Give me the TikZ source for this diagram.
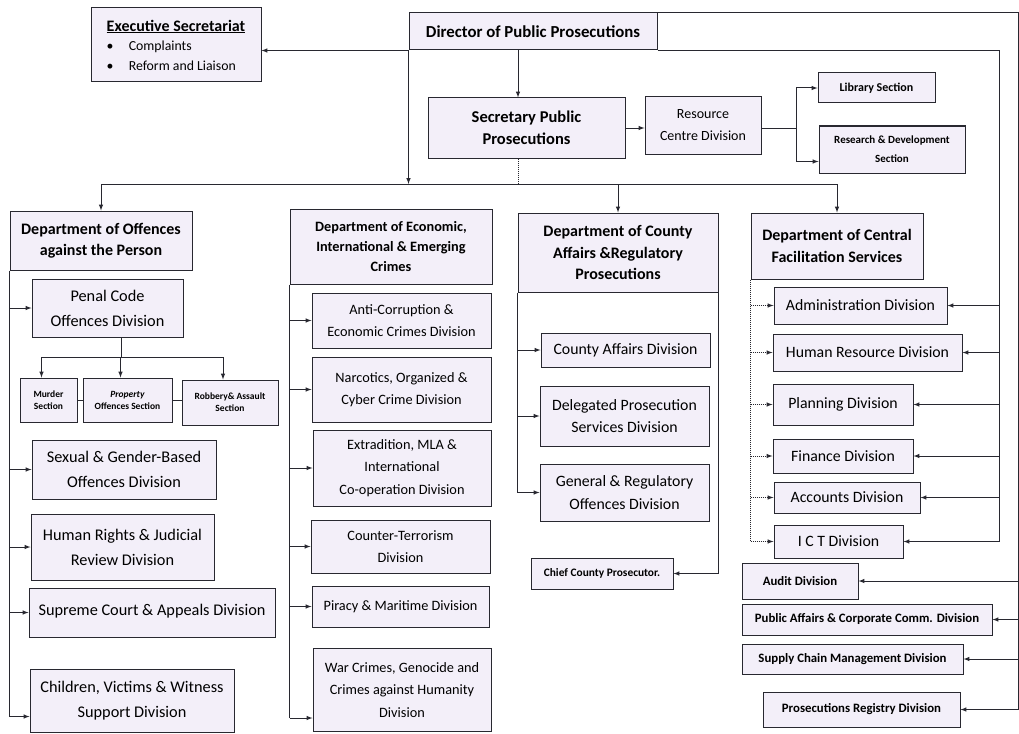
\documentclass[tikz,border=0pt]{standalone}
\usepackage{fontspec}
\setmainfont{Carlito}
\usepackage{tikz}
\usetikzlibrary{positioning,arrows,calc}
\definecolor{boxfill}{RGB}{243,239,249}
\definecolor{linecol}{RGB}{40,40,48}
\newcommand{\deptfont}{\fontsize{16}{21.5}\selectfont\bfseries}
\newcommand{\divfont}{\fontsize{15.8}{22.5}\selectfont}
\tikzset{
  unit/.style={
      draw=linecol,
      fill=boxfill,
      line width=1pt,
      align=center,
      inner sep=1pt,
  },
  dept/.style={
      unit,
      font=\deptfont,
  },
  division/.style={
      unit,
      font=\divfont,
  },
  widediv/.style={
      unit,
      font=\fontsize{16.3}{25}\selectfont,
  },
  econdiv/.style={
      unit,
      font=\fontsize{14.3}{22.5}\selectfont,
  },
  section/.style={
      unit,
      font=\fontsize{9.5}{12}\selectfont\bfseries,
  },
  office/.style={
      unit,
      font=\fontsize{12.8}{15}\selectfont\bfseries,
  },
  boxsize/.style 2 args={
      minimum width=#1pt,
      minimum height=#2pt,
  },
  conn/.style={
      draw=linecol,
      line width=1pt,
  },
  flow/.style={
      conn,
      -latex,
  },
  dotflow/.style={
      conn,
      densely dotted,
      -latex,
  },
}

\begin{document}
\begin{tikzpicture}[x=1pt,y=-1pt]
  \useasboundingbox (0,0) rectangle (1019,733);

  % top of the office
  \node[dept, boxsize={248}{37}, font=\fontsize{16.8}{18}\selectfont\bfseries] (dpp) at (533,31.5) {Director of Public Prosecutions};
  \node[unit, boxsize={170}{74}, align=left, font=\fontsize{13.8}{19.5}\selectfont] (exec) at (176,45)
      {{\fontsize{16}{19.5}\selectfont\bfseries\underline{Executive Secretariat}}\\
       \textbullet\hspace{1.1em}Complaints\\
       \textbullet\hspace{1.1em}Reform and Liaison};
  \node[dept, boxsize={197}{60}, font=\fontsize{16.5}{22}\selectfont\bfseries] (sec) at (526.5,128) {Secretary Public\\Prosecutions};
  \node[division, boxsize={116}{57}, font=\fontsize{14}{22}\selectfont] (rcd) at (703,125.5) {Resource\\Centre Division};
  \node[section, boxsize={117}{30}, font=\fontsize{12}{19}\selectfont\bfseries] (lib) at (876.5,88) {Library Section};
  \node[section, boxsize={146}{47}, font=\fontsize{11}{19}\selectfont\bfseries] (rnd) at (892,149.5) {Research \& Development\\Section};

  % departments
  \node[dept, boxsize={182}{59}] (dop) at (101,240.5) {Department of Offences\\against the Person};
  \node[dept, boxsize={202}{75}, font=\fontsize{14.3}{20}\selectfont\bfseries] (deic) at (391,246.5) {Department of Economic,\\International \& Emerging\\Crimes};
  \node[dept, boxsize={200}{79}] (dca) at (618,252.5) {Department of County\\Affairs \&Regulatory\\Prosecutions};
  \node[dept, boxsize={172}{66}] (cfs) at (837,246) {Department of Central\\Facilitation Services};

  % offences against the person
  \node[widediv, boxsize={151}{58}] (penal) at (107.5,308) {Penal Code\\Offences Division};
  \node[section, boxsize={57}{44}] (murder) at (48.5,400) {Murder\\Section};
  \node[section, boxsize={89}{44}] (prop) at (127.5,400) {\textit{Property}\\Offences Section};
  \node[section, boxsize={96}{45}] (robb) at (230,402.5) {Robbery\& Assault\\Section};
  \node[widediv, boxsize={184}{59}] (sexual) at (124,469.5) {Sexual \& Gender-Based\\Offences Division};
  \node[widediv, boxsize={183}{66}] (human) at (122.5,547) {Human Rights \& Judicial\\Review Division};
  \node[widediv, boxsize={246}{49}] (supreme) at (152,612.5) {\raisebox{5pt}{Supreme Court \& Appeals Division}};
  \node[widediv, boxsize={204}{63}] (child) at (132,700.5) {Children, Victims \& Witness\\Support Division};

  % economic, international and emerging crimes
  \node[econdiv, boxsize={179}{55}] (anti) at (401.5,320.5) {Anti-Corruption \&\\Economic Crimes Division};
  \node[econdiv, boxsize={179}{65}] (narc) at (401.5,389.5) {Narcotics, Organized \&\\Cyber Crime Division};
  \node[econdiv, boxsize={178}{76}] (extr) at (402,468) {Extradition, MLA \&\\International\\Co-operation Division};
  \node[econdiv, boxsize={179}{53}] (terr) at (400.5,546.5) {Counter-Terrorism\\Division};
  \node[econdiv, boxsize={177}{41}] (piracy) at (400.5,606.5) {Piracy \& Maritime Division};
  \node[econdiv, boxsize={178}{83}] (war) at (402,690) {War Crimes, Genocide and\\Crimes against Humanity\\Division};

  % county affairs
  \node[division, boxsize={169}{34}] (county) at (625.5,350) {County Affairs Division};
  \node[division, boxsize={169}{60}] (deleg) at (624.5,416) {Delegated Prosecution\\Services Division};
  \node[division, boxsize={169}{57}] (general) at (624.5,492.5) {General \& Regulatory\\Offences Division};
  \node[section, boxsize={142}{31}, font=\fontsize{11.4}{12}\selectfont\bfseries] (chief) at (602,573.5) {Chief County Prosecutor.};

  % central facilitation
  \node[division, boxsize={173}{37}] (admin) at (860.5,305.5) {Administration Division};
  \node[division, boxsize={189}{37}] (hr) at (867.5,352.5) {Human Resource Division};
  \node[division, boxsize={140}{41}] (plan) at (843,404.5) {Planning Division};
  \node[division, boxsize={140}{34}] (fin) at (843,456) {Finance Division};
  \node[division, boxsize={146}{31}] (acc) at (847,497.5) {Accounts Division};
  \node[division, boxsize={129}{33}] (ict) at (838.5,541.5) {I C T Division};
  \node[office, boxsize={116}{36}] (audit) at (800,581) {Audit Division};
  \node[office, boxsize={250}{31}] (pacc) at (867,619.5) {Public Affairs \& Corporate Comm. Division};
  \node[office, boxsize={221}{30}] (supply) at (852.5,659) {Supply Chain Management Division};
  \node[office, boxsize={197}{35}] (reg) at (861.5,709.5) {Prosecutions Registry Division};

  % helper coordinates
  \coordinate (bus) at (0,184);
  \coordinate (rsplit) at (796,128);
  \coordinate (psplit) at (121,357);
  \coordinate (trunka) at (1018,0);
  \coordinate (trunkb) at (999,0);

  % upper links
  \draw[flow] (dpp.south west) -- (dpp.south west -| exec.east);
  \draw[flow] ([xshift=-15pt]dpp.south) -- ([xshift=-15pt]dpp.south |- sec.north);
  \draw[flow] (sec.east) -- (rcd.west |- sec.east);
  \draw[conn] (rcd.east |- sec.east) -- (rsplit);
  \draw[flow] (rsplit) |- (lib.west);
  \draw[flow] (rsplit) |- ([yshift=-12pt]rnd.west);
  \draw[conn, densely dotted] ([xshift=-8pt]sec.south) -- ([xshift=-8pt]sec.south |- bus);

  % bus to departments
  \draw[conn] (dop.north |- bus) -- (cfs.north |- bus);
  \draw[flow] (dpp.south west) -- (dpp.south west |- bus);
  \foreach \d in {dop,dca,cfs}
    \draw[flow] (\d.north |- bus) -- (\d.north);

  % right hand trunks
  \draw[conn] (dpp.north east) -- (dpp.north east -| trunka) -- (trunka |- reg.east);
  \foreach \o in {audit,pacc,supply,reg}
    \draw[flow] (trunka |- \o.east) -- (\o.east);
  \draw[conn] (dpp.south east) -- (dpp.south east -| trunkb) -- (trunkb |- ict.east);
  \foreach \o in {admin,hr,plan,fin,acc,ict}
    \draw[flow] (trunkb |- \o.east) -- (\o.east);

  % offences against the person
  \draw[conn] (dop.south west) -- ([yshift=-16pt]dop.south west |- child.west);
  \foreach \o in {penal,sexual,human,supreme}
    \draw[flow] (dop.south west |- \o.west) -- (\o.west);
  \draw[flow] ([yshift=-16pt]dop.south west |- child.west) -- ([yshift=-16pt]child.west);
  \draw[conn] (psplit |- penal.south) -- (psplit);
  \draw[conn] ([xshift=-7pt]murder.north |- psplit) -- ([xshift=-7pt]robb.north |- psplit);
  \foreach \s in {murder,prop,robb}
    \draw[flow] ([xshift=-7pt]\s.north |- psplit) -- ([xshift=-7pt]\s.north);
  \draw[conn] (murder.east) -- (prop.west);
  \draw[conn] (prop.east) -- (robb.west |- prop.east);

  % economic crimes
  \draw[conn] (deic.south west) -- ([yshift=-28pt]deic.south west |- war.west);
  \foreach \o in {anti,narc,extr,terr,piracy}
    \draw[flow] (deic.south west |- \o.west) -- (\o.west);
  \draw[flow] ([yshift=-28pt]deic.south west |- war.west) -- ([yshift=-28pt]war.west);

  % county affairs
  \draw[conn] (dca.south west) -- (dca.south west |- general.west);
  \foreach \o in {county,deleg,general}
    \draw[flow] (dca.south west |- \o.west) -- (\o.west);
  \draw[flow] (dca.south east) |- (chief.east);

  % central facilitation (dotted)
  \draw[conn, densely dotted] (cfs.south west) -- (cfs.south west |- ict.west);
  \foreach \o in {admin,hr,plan,fin,acc,ict}
    \draw[dotflow] (cfs.south west |- \o.west) -- (\o.west);
\end{tikzpicture}
\end{document}
